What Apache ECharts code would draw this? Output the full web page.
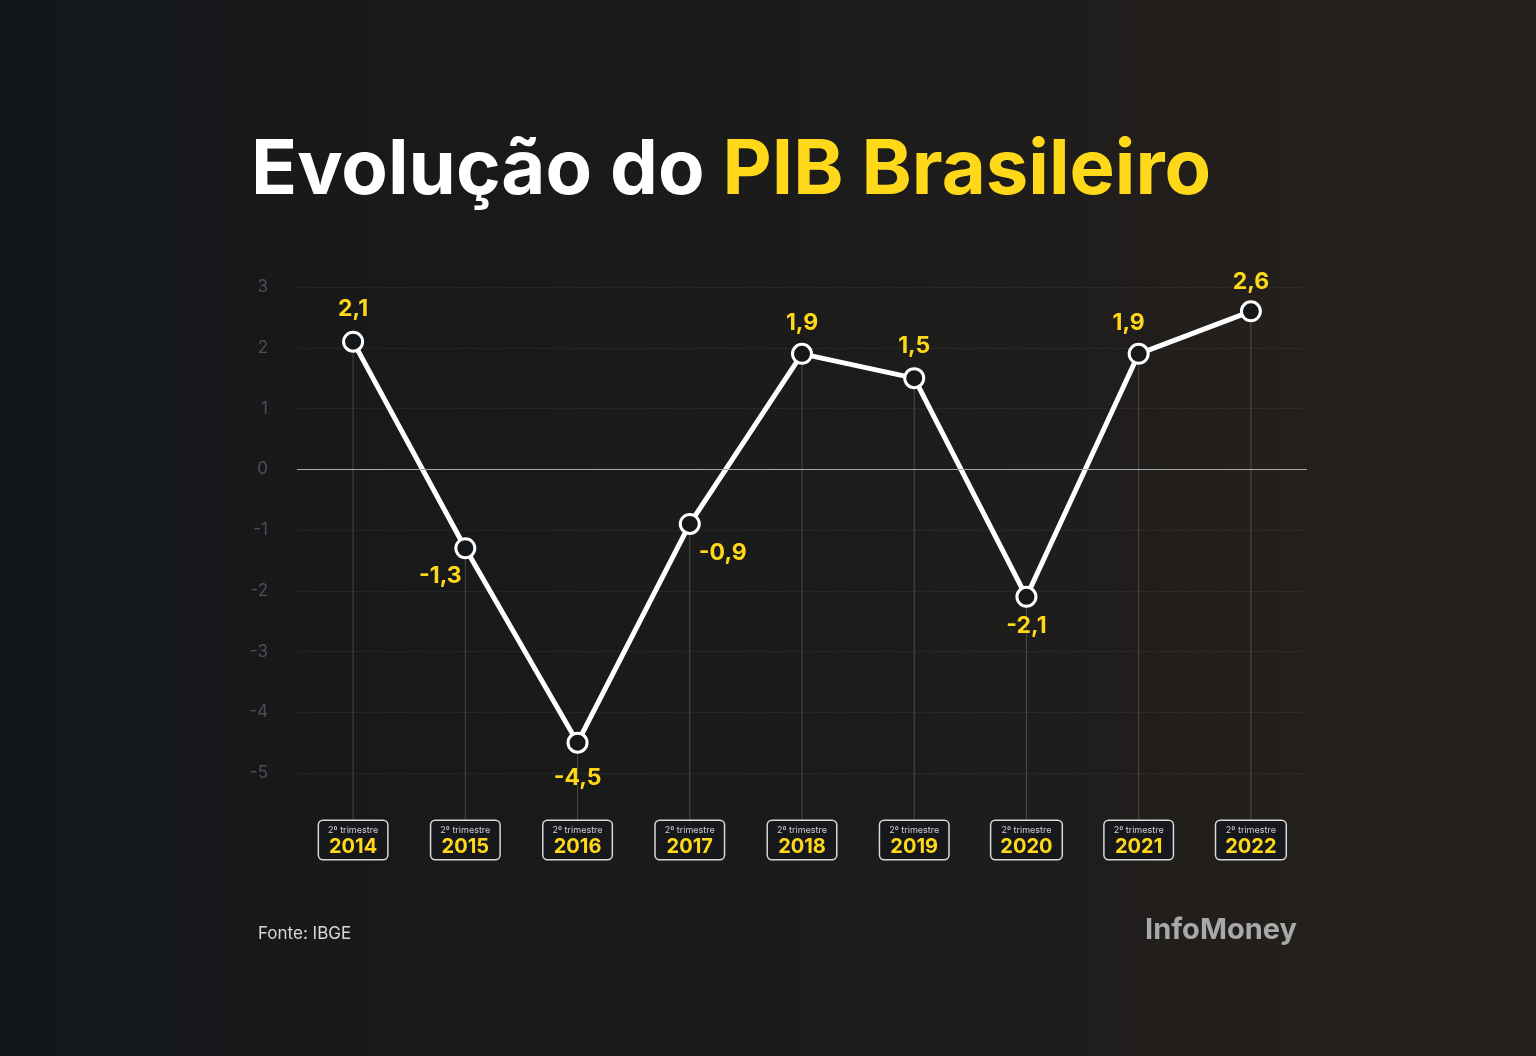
<!DOCTYPE html>
<html>
<head>
<meta charset="utf-8">
<script src="https://cdn.jsdelivr.net/npm/echarts@6/dist/echarts.min.js"></script>
<style>
html,body{margin:0;padding:0;background:#16191c;}
#c{width:1536px;height:1056px;}
</style>
</head>
<body>
<div id="c"></div>
<script>
const categories = ['2014','2015','2016','2017','2018','2019','2020','2021','2022'];
const quarterLabel = '2º trimestre';
const pibValues = [2.1, -1.3, -4.5, -0.9, 1.9, 1.5, -2.1, 1.9, 2.6];
const valueLabels = ['2,1','-1,3','-4,5','-0,9','1,9','1,5','-2,1','1,9','2,6'];
const yTicks = [-5, -4, -3, -2, -1, 0, 1, 2, 3];

// label offsets (style only)
const labelOffsets = [[0,-33],[-25,28],[0,35],[33,29],[0,-31],[0,-32],[0,29],[-10,-31],[0,-29]];

const chart = echarts.init(document.getElementById('c'));
const font = 'Inter, "Noto Sans", sans-serif';

const option = {
  backgroundColor: {
    type: 'linear', x: 0, y: 0, x2: 1, y2: 0,
    colorStops: [{offset: 0, color: '#14171a'}, {offset: 0.5, color: '#1b1b1b'}, {offset: 1, color: '#26211d'}]
  },
  title: [
    {
      left: 246, top: 128,
      text: '{w|Evolução do }{y|PIB Brasileiro}',
      textStyle: {
        rich: {
          w: {color: '#ffffff', fontSize: 76, fontWeight: 700, fontFamily: font},
          y: {color: '#ffd919', fontSize: 76, fontWeight: 700, fontFamily: font}
        }
      }
    },
    {
      left: 253, top: 920,
      text: 'Fonte: IBGE',
      textStyle: {color: '#d8d8d8', fontSize: 17, fontWeight: 400, fontFamily: font}
    },
    {
      left: 1140, top: 911,
      text: 'InfoMoney',
      textStyle: {color: '#a9a9a9', fontSize: 29, fontWeight: 700, fontFamily: font}
    }
  ],
  grid: {left: 297, right: 229, top: 287, bottom: 283, containLabel: false},
  xAxis: {
    type: 'category',
    data: categories,
    boundaryGap: true,
    axisLine: {show: false},
    axisTick: {show: false},
    splitLine: {show: false},
    axisLabel: {
      margin: 48,
      formatter: v => '{a|' + quarterLabel + '}\n{b|' + v + '}',
      borderColor: '#d8d8d8',
      borderWidth: 1.5,
      borderRadius: 4,
      backgroundColor: '#16181b',
      padding: [4, 9, 2, 9],
      rich: {
        a: {color: '#cfcfcf', fontSize: 9, fontFamily: font, lineHeight: 11, align: 'center'},
        b: {color: '#ffd919', fontSize: 20, fontWeight: 700, fontFamily: font, lineHeight: 21, align: 'center'}
      }
    }
  },
  yAxis: {
    type: 'value',
    min: yTicks[0], max: yTicks[yTicks.length - 1], interval: 1,
    axisLine: {show: false},
    axisTick: {show: false},
    axisLabel: {color: '#4c4f53', fontSize: 17, fontFamily: font, margin: 29},
    splitLine: {lineStyle: {color: 'rgba(255,255,255,0.05)', width: 1}}
  },
  series: [
    {
      type: 'custom',
      silent: true,
      z: 1,
      clip: false,
      data: pibValues.map((v, i) => [i, v]),
      renderItem: (params, api) => {
        const p = api.coord([api.value(0), api.value(1)]);
        const bottom = params.coordSys.y + params.coordSys.height + 47;
        return {
          type: 'line',
          shape: {x1: p[0], y1: p[1], x2: p[0], y2: bottom},
          style: {stroke: 'rgba(255,255,255,0.2)', lineWidth: 1}
        };
      }
    },
    {
      type: 'line',
      z: 3,
      data: pibValues.map((v, i) => ({
        value: v,
        label: {offset: labelOffsets[i], formatter: valueLabels[i]}
      })),
      symbol: 'circle',
      symbolSize: 19,
      itemStyle: {color: '#15181b', borderColor: '#ffffff', borderWidth: 3},
      lineStyle: {color: '#ffffff', width: 5},
      label: {
        show: true,
        position: 'inside',
        color: '#ffd919',
        fontSize: 23,
        fontWeight: 700,
        fontFamily: font
      },
      markLine: {
        silent: true,
        symbol: 'none',
        label: {show: false},
        lineStyle: {color: '#a8a8a8', width: 1.2, type: 'solid'},
        data: [{yAxis: 0}]
      }
    }
  ]
};
chart.setOption(option);
</script>
</body>
</html>
